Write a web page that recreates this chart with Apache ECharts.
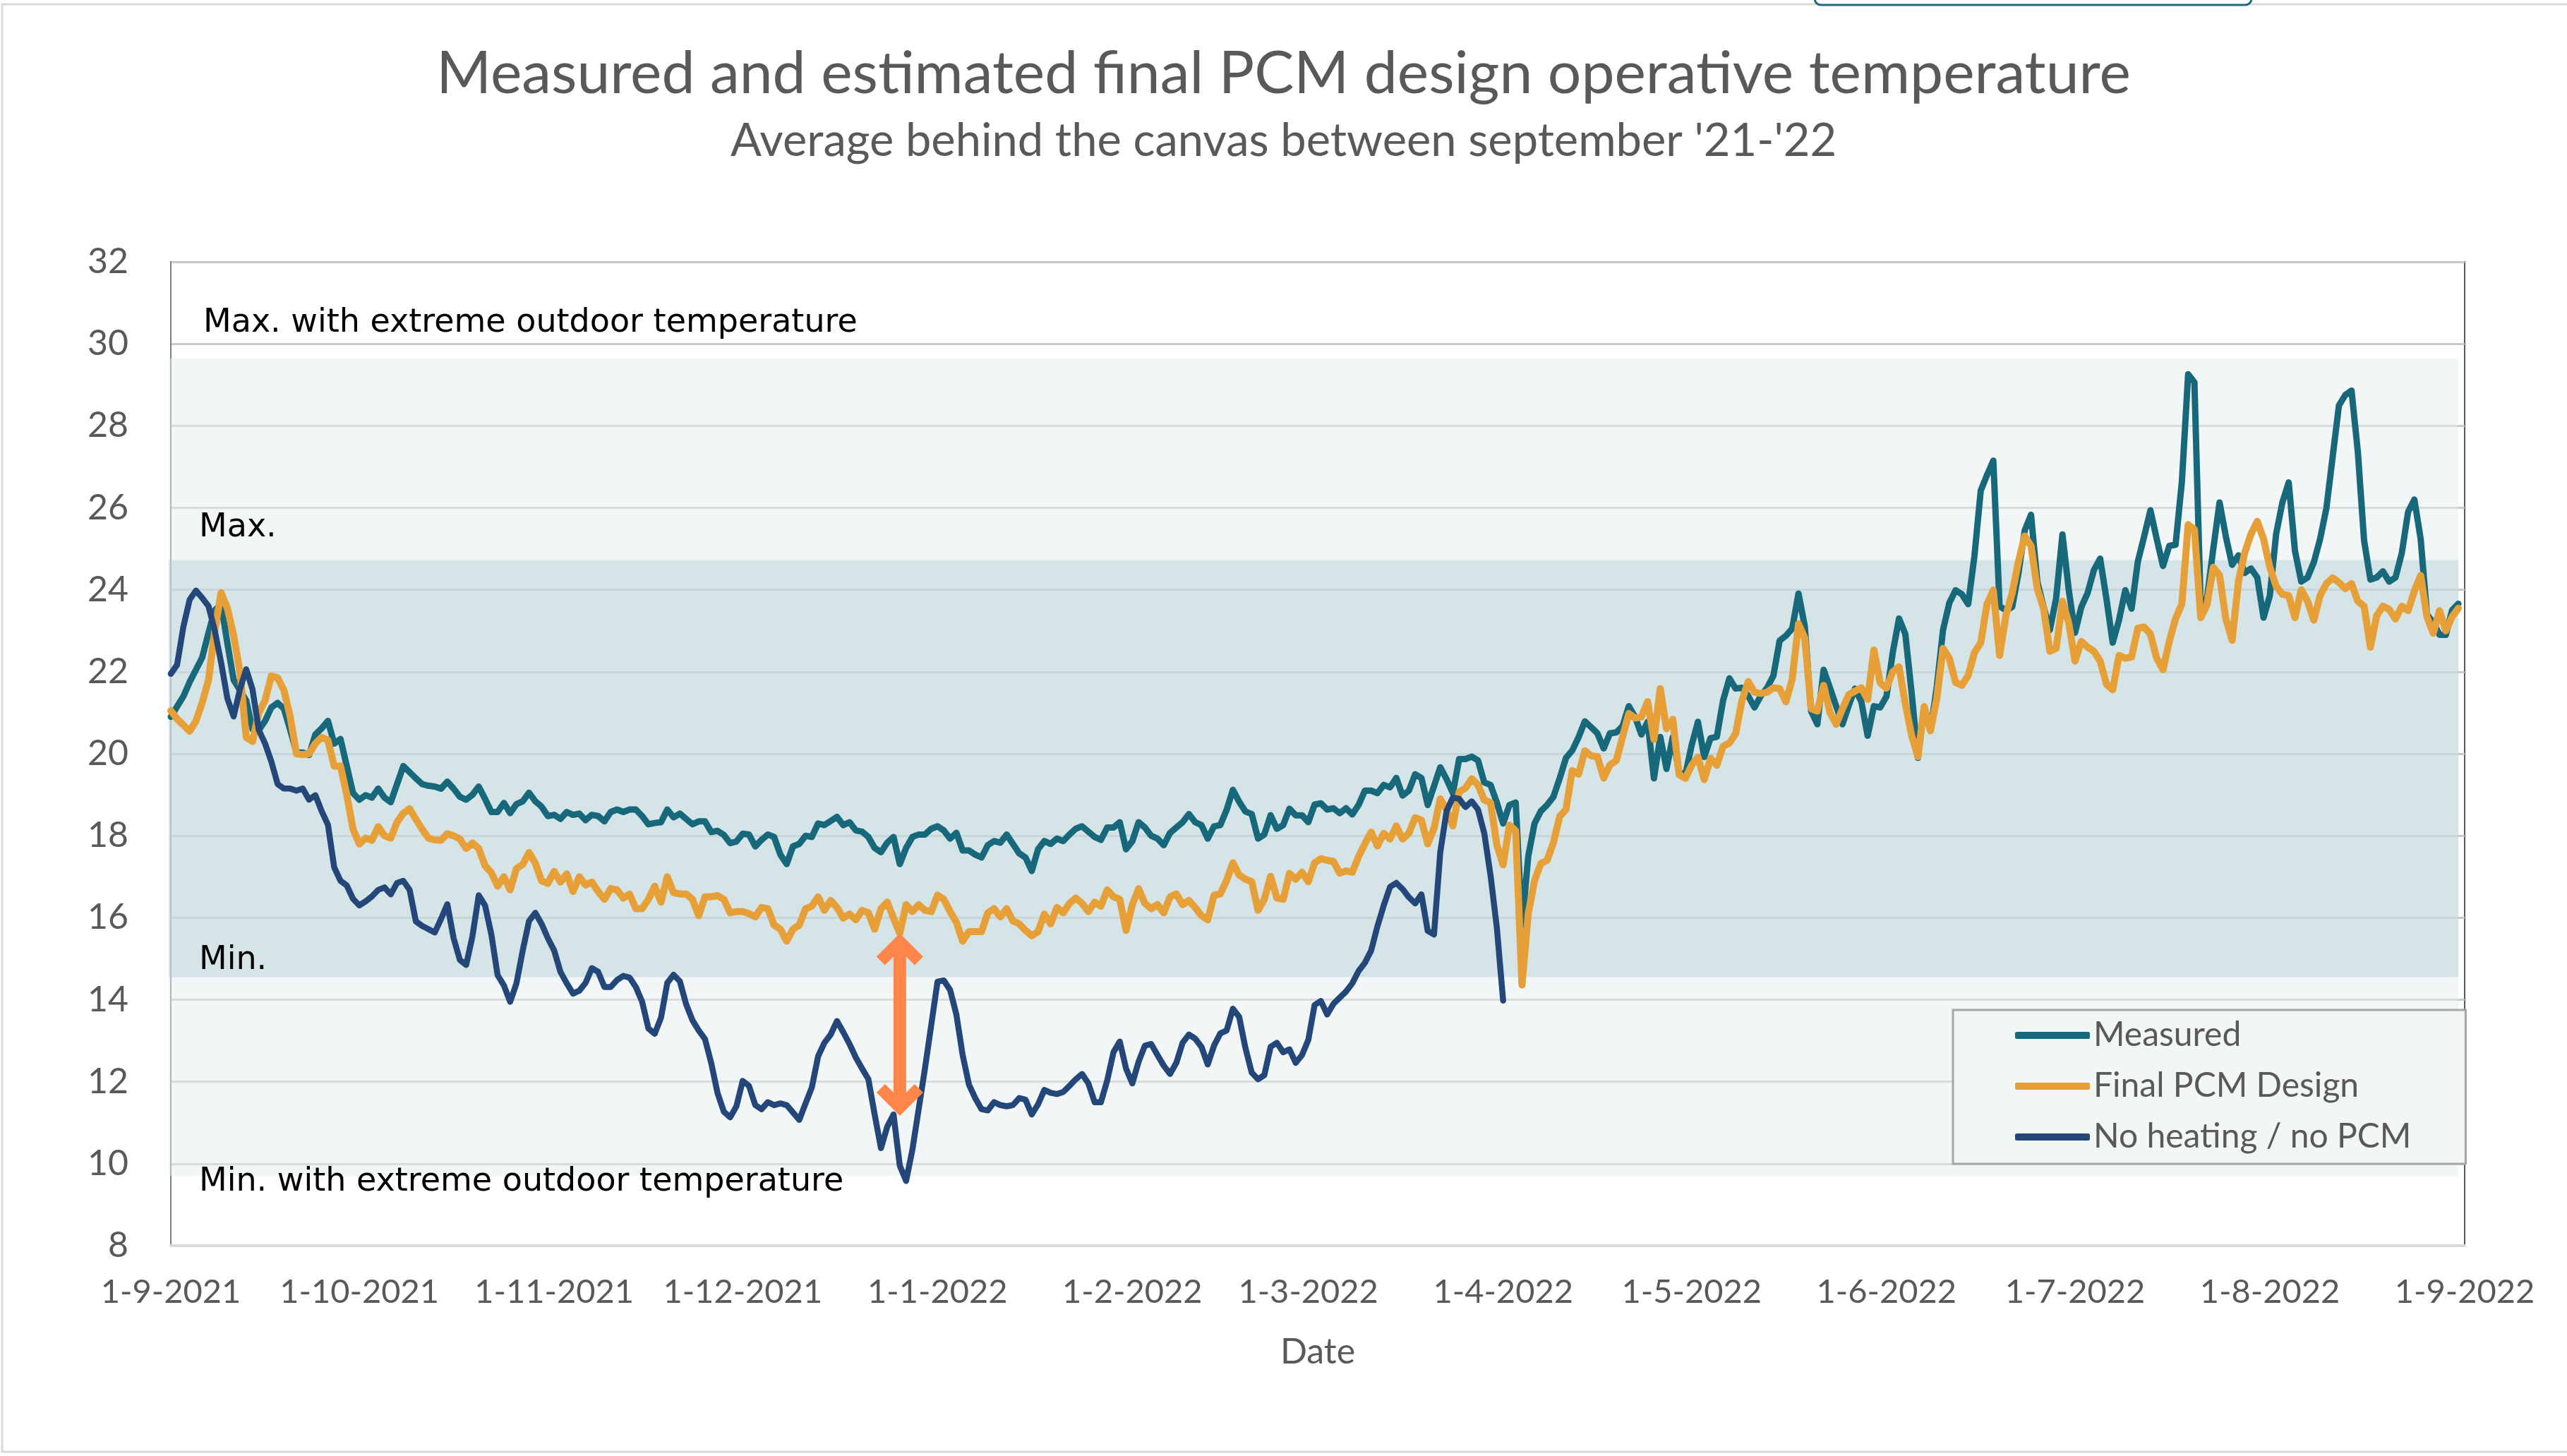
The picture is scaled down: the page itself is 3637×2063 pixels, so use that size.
<!DOCTYPE html>
<html>
<head>
<meta charset="utf-8">
<script src="https://cdn.jsdelivr.net/npm/echarts@6/dist/echarts.min.js"></script>
<style>
  html, body { margin: 0; padding: 0; background: #ffffff; }
  #chart { width: 3637px; height: 2063px; }
</style>
</head>
<body>
<div id="chart"></div>
<script>
// Daily average operative temperature behind the canvas, 1 Sep 2021 .. 31 Aug 2022
const firstDay = { year: 2021, month: 9, day: 1 };
const dayCount = 366; // 1-9-2021 .. 1-9-2022 inclusive

const seriesNames = ['Measured', 'Final PCM Design', 'No heating / no PCM'];

const measured = [
  20.9, 21.15, 21.4, 21.75, 22.05, 22.35, 22.95, 23.5, 23.65, 22.7,
  21.8, 21.55, 21.3, 20.6, 20.58, 20.8, 21.13, 21.24, 21.1, 20.58,
  20.03, 20.03, 19.97, 20.47, 20.62, 20.8, 20.25, 20.36, 19.7, 19.04,
  18.88, 18.99, 18.93, 19.15, 18.93, 18.82, 19.26, 19.7, 19.55, 19.4,
  19.26, 19.22, 19.2, 19.15, 19.32, 19.15, 18.95, 18.88, 19.0, 19.2,
  18.9, 18.58, 18.58, 18.8, 18.55, 18.77, 18.84, 19.05, 18.84, 18.71,
  18.48, 18.51, 18.41, 18.58, 18.51, 18.54, 18.38, 18.51, 18.48, 18.35,
  18.58, 18.64, 18.58, 18.64, 18.64, 18.48, 18.28, 18.31, 18.33, 18.64,
  18.45, 18.54, 18.41, 18.28, 18.35, 18.35, 18.09, 18.12, 18.02, 17.82,
  17.86, 18.05, 18.03, 17.74, 17.9, 18.03, 17.97, 17.54, 17.31, 17.74,
  17.8, 18.0, 17.97, 18.3, 18.26, 18.36, 18.46, 18.26, 18.33, 18.13,
  18.1, 17.97, 17.7, 17.6, 17.83, 17.97, 17.31, 17.7, 17.97, 18.03,
  18.03, 18.17, 18.23, 18.13, 17.93, 18.07, 17.64, 17.64, 17.54, 17.47,
  17.77, 17.87, 17.83, 18.03, 17.8, 17.57, 17.47, 17.14, 17.67, 17.87,
  17.8, 17.93, 17.87, 18.03, 18.17, 18.23, 18.1, 17.97, 17.9, 18.2,
  18.2, 18.33, 17.67, 17.87, 18.33, 18.2, 18.0, 17.93, 17.77, 18.07,
  18.2, 18.33, 18.53, 18.33, 18.26, 17.93, 18.23, 18.26, 18.63, 19.12,
  18.83, 18.59, 18.53, 17.93, 18.03, 18.5, 18.17, 18.26, 18.66, 18.5,
  18.5, 18.33, 18.76, 18.79, 18.64, 18.67, 18.55, 18.67, 18.52, 18.75,
  19.1, 19.1, 19.04, 19.24, 19.18, 19.41, 18.98, 19.1, 19.5, 19.41,
  18.75, 19.21, 19.67, 19.38, 19.04, 19.87, 19.87, 19.93, 19.84, 19.3,
  19.24, 18.81, 18.3, 18.75, 18.81, 15.8, 17.5, 18.3, 18.6, 18.75,
  18.95, 19.4, 19.9, 20.08, 20.4, 20.79, 20.65, 20.5, 20.13, 20.5,
  20.52, 20.67, 21.16, 20.9, 20.47, 20.78, 19.4, 20.41, 19.63, 20.41,
  19.55, 19.49, 20.21, 20.78, 19.92, 20.38, 20.41, 21.3, 21.84, 21.59,
  21.61, 21.41, 21.13, 21.41, 21.61, 21.9, 22.76, 22.88, 23.05, 23.91,
  23.11, 21.04, 20.72, 22.05, 21.61, 21.16, 20.72, 21.18, 21.59, 21.27,
  20.44, 21.16, 21.13, 21.4, 22.47, 23.3, 22.92, 21.49, 19.9, 21.15,
  20.56, 21.63, 23.02, 23.68, 23.99, 23.89, 23.65, 24.83, 26.42, 26.8,
  27.15, 23.6, 23.5, 23.58, 24.4, 25.45, 25.83, 24.2, 23.58, 23.02,
  23.8, 25.35, 24.0, 22.95, 23.58, 23.92, 24.48, 24.76, 23.78, 22.71,
  23.26, 23.99, 23.54, 24.69, 25.3, 25.94, 25.24, 24.58, 25.07, 25.1,
  26.63, 29.26, 29.06, 23.57, 23.8, 25.0, 26.13, 25.3, 24.61, 24.84,
  24.41, 24.52, 24.3, 23.32, 23.86, 25.36, 26.13, 26.62, 24.95, 24.2,
  24.3, 24.67, 25.24, 25.99, 27.25, 28.5, 28.75, 28.86, 27.37, 25.2,
  24.25, 24.3, 24.45, 24.2, 24.3, 24.9, 25.9, 26.2, 25.24, 23.4,
  23.2, 22.9, 22.9, 23.5, 23.66
];

const finalPcm = [
  21.05, 20.85, 20.7, 20.55, 20.8, 21.25, 21.8, 23.0, 23.93, 23.55,
  22.89, 22.0, 20.4, 20.3, 21.0, 21.3, 21.9, 21.85, 21.55, 20.9,
  20.0, 19.98, 20.0, 20.25, 20.4, 20.33, 19.7, 19.7, 19.0, 18.16,
  17.8, 17.94, 17.89, 18.22, 18.0, 17.94, 18.33, 18.55, 18.66, 18.4,
  18.16, 17.94, 17.9, 17.89, 18.05, 18.0, 17.92, 17.69, 17.82, 17.69,
  17.27, 17.1, 16.77, 17.0, 16.68, 17.2, 17.3, 17.59, 17.33, 16.9,
  16.84, 17.13, 16.87, 17.07, 16.64, 17.0, 16.8, 16.87, 16.64, 16.45,
  16.71, 16.68, 16.48, 16.58, 16.22, 16.22, 16.45, 16.77, 16.38, 17.0,
  16.61, 16.58, 16.58, 16.45, 16.05, 16.51, 16.51, 16.54, 16.45, 16.12,
  16.15, 16.15, 16.1, 16.02, 16.25, 16.22, 15.82, 15.72, 15.43, 15.72,
  15.82, 16.22, 16.28, 16.51, 16.18, 16.42, 16.25, 15.99, 16.09, 15.95,
  16.18, 16.12, 15.72, 16.22, 16.38, 15.99, 15.62, 16.32, 16.15, 16.32,
  16.18, 16.15, 16.55, 16.45, 16.15, 15.89, 15.43, 15.66, 15.66, 15.66,
  16.12, 16.22, 16.02, 16.22, 15.92, 15.85, 15.69, 15.56, 15.66, 16.09,
  15.85, 16.25, 16.12, 16.35, 16.48, 16.35, 16.15, 16.38, 16.28, 16.68,
  16.51, 16.45, 15.69, 16.32, 16.71, 16.35, 16.22, 16.32, 16.12, 16.51,
  16.58, 16.32, 16.42, 16.25, 16.05, 15.95, 16.55, 16.58, 16.91, 17.34,
  17.04, 16.94, 16.88, 16.18, 16.45, 17.01, 16.48, 16.45, 17.08, 16.94,
  17.11, 16.88, 17.34, 17.44, 17.4, 17.37, 17.09, 17.14, 17.11, 17.49,
  17.8, 18.09, 17.75, 18.06, 17.92, 18.24, 17.92, 18.06, 18.44, 18.38,
  17.8, 18.18, 18.9, 18.64, 18.24, 19.07, 19.16, 19.39, 19.24, 18.87,
  18.81, 17.78, 17.29, 18.26, 18.12, 14.36, 16.1, 16.91, 17.32, 17.4,
  17.83, 18.47, 18.64, 19.59, 19.5, 20.07, 19.95, 19.93, 19.41, 19.73,
  19.83, 20.41, 20.98, 20.87, 20.9, 21.27, 20.35, 21.59, 20.61, 20.84,
  19.49, 19.4, 19.72, 19.92, 19.37, 19.89, 19.72, 20.18, 20.26, 20.49,
  21.3, 21.76, 21.5, 21.47, 21.5, 21.61, 21.59, 21.27, 21.82, 23.17,
  22.82, 21.1, 21.04, 21.67, 21.01, 20.72, 21.1, 21.44, 21.53, 21.61,
  21.33, 22.53, 21.73, 21.6, 22.0, 22.12, 21.22, 20.45, 19.93, 21.15,
  20.56, 21.35, 22.57, 22.33, 21.74, 21.67, 21.91, 22.47, 22.71, 23.65,
  23.99, 22.4, 23.37, 23.92, 24.69, 25.31, 25.07, 24.03, 23.54, 22.5,
  22.57, 23.72, 23.19, 22.26, 22.74, 22.6, 22.5, 22.26, 21.7, 21.56,
  22.4, 22.33, 22.36, 23.06, 23.09, 22.92, 22.33, 22.05, 22.74, 23.3,
  23.65, 25.59, 25.47, 23.32, 23.63, 24.55, 24.35, 23.29, 22.77, 24.2,
  24.9, 25.36, 25.67, 25.24, 24.55, 24.09, 23.89, 23.86, 23.32, 24.0,
  23.72, 23.26, 23.86, 24.15, 24.29, 24.18, 24.03, 24.15, 23.72, 23.6,
  22.6, 23.37, 23.6, 23.52, 23.29, 23.6, 23.49, 23.97, 24.35, 23.34,
  22.94, 23.49, 23.0, 23.34, 23.55
];

// Reference case without heating and without PCM, recorded until 1-4-2022
const noHeating = [
  21.95, 22.17, 23.1, 23.76, 23.98, 23.8, 23.6, 23.0, 22.23, 21.35,
  20.91, 21.57, 22.06, 21.57, 20.58, 20.25, 19.81, 19.26, 19.15, 19.15,
  19.1, 19.15, 18.88, 18.99, 18.6, 18.27, 17.23, 16.9, 16.79, 16.46,
  16.3, 16.4, 16.52, 16.68, 16.74, 16.57, 16.85, 16.9, 16.68, 15.91,
  15.8, 15.72, 15.64, 15.97, 16.33, 15.5, 14.97, 14.85, 15.55, 16.55,
  16.3, 15.6, 14.6, 14.35, 13.95, 14.4, 15.2, 15.92, 16.12, 15.85,
  15.5, 15.2, 14.68, 14.4, 14.15, 14.22, 14.41, 14.77, 14.68, 14.31,
  14.31, 14.48, 14.58, 14.54, 14.31, 13.95, 13.3, 13.17, 13.56, 14.41,
  14.61, 14.45, 13.89, 13.5, 13.25, 13.04, 12.45, 11.72, 11.27, 11.13,
  11.4, 12.02, 11.9, 11.43, 11.33, 11.5, 11.43, 11.47, 11.43, 11.25,
  11.07, 11.47, 11.86, 12.62, 12.95, 13.15, 13.48, 13.21, 12.92, 12.59,
  12.32, 12.06, 11.2, 10.38, 10.9, 11.2, 9.95, 9.58, 10.34, 11.33,
  12.32, 13.38, 14.44, 14.47, 14.24, 13.64, 12.65, 11.93, 11.6, 11.33,
  11.3, 11.5, 11.43, 11.4, 11.43, 11.6, 11.56, 11.2, 11.45, 11.8,
  11.73, 11.7, 11.75, 11.9, 12.06, 12.19, 11.96, 11.5, 11.5, 12.03,
  12.72, 12.98, 12.32, 11.96, 12.49, 12.88, 12.92, 12.65, 12.39, 12.19,
  12.46, 12.95, 13.15, 13.05, 12.85, 12.42, 12.88, 13.18, 13.25, 13.78,
  13.58, 12.82, 12.22, 12.06, 12.16, 12.85, 12.95, 12.72, 12.79, 12.46,
  12.65, 13.02, 13.87, 13.97, 13.64, 13.9, 14.05, 14.2, 14.4, 14.7,
  14.9, 15.2, 15.79, 16.3, 16.75, 16.85, 16.7, 16.5, 16.35, 16.57,
  15.68, 15.59, 17.6, 18.6, 18.93, 18.9, 18.7, 18.84, 18.64, 18.06,
  17.03, 15.76, 13.98
];

// Comfort limits (°C): normal band and band with extreme outdoor temperature
const comfortBand = [14.55, 24.72];
const extremeBand = [9.7, 29.64];
const bandEndDay = 364.3;

const bandLabels = [
  'Max. with extreme outdoor temperature',
  'Max.',
  'Min.',
  'Min. with extreme outdoor temperature'
];
const bandLabelValues = [30.5, 25.5, 14.95, 9.55];

// Gap between the final design and the unheated case around Christmas
const gapArrow = { day: 116, top: 15.62, bottom: 11.17 };

// y-axis
const yMin = 8, yMax = 32, yStep = 2;

// ---------------------------------------------------------------------------
const FONT = 'Lato';
const GREY_TEXT = '#595959';
const COLORS = ['#17687A', '#E7A037', '#24477A'];
const WIDTHS = [9, 10, 8.5];

function dayLabels() {
  const out = [];
  for (let i = 0; i < dayCount; i++) {
    const d = new Date(Date.UTC(firstDay.year, firstDay.month - 1, firstDay.day + i));
    out.push(d.getUTCDate() + '-' + (d.getUTCMonth() + 1) + '-' + d.getUTCFullYear());
  }
  return out;
}
const days = dayLabels();

const chart = echarts.init(document.getElementById('chart'), null, { renderer: 'canvas' });

function lineSeries(idx, data, z) {
  const color = COLORS[idx];
  return {
    name: seriesNames[idx], type: 'line', data, z,
    showSymbol: false, symbol: 'none', smooth: false,
    lineStyle: { color, width: WIDTHS[idx], join: 'round', cap: 'round' },
    itemStyle: { color },
    emphasis: { disabled: true },
    silent: true
  };
}

const option = {
  animation: false,
  backgroundColor: '#ffffff',
  title: [
    {
      text: 'Measured and estimated final PCM design operative temperature',
      left: 'center', top: 56,
      textStyle: { fontFamily: FONT, fontSize: 84, fontWeight: 'normal', color: GREY_TEXT, lineHeight: 88 }
    },
    {
      text: "Average behind the canvas between september '21-'22",
      left: 'center', top: 161,
      textStyle: { fontFamily: FONT, fontSize: 65, fontWeight: 'normal', color: GREY_TEXT, lineHeight: 68 }
    }
  ],
  legend: {
    data: seriesNames,
    orient: 'vertical',
    left: 2767, top: 1431,
    padding: [6, 77, 8, 88],
    itemWidth: 106, itemHeight: 10, itemGap: 12,
    icon: 'roundRect',
    backgroundColor: '#f2f6f7',
    borderColor: '#a6a6a6', borderWidth: 3, borderRadius: 0,
    textStyle: { fontFamily: FONT, fontSize: 48, color: GREY_TEXT, lineHeight: 60 },
    selectedMode: false
  },
  grid: {
    left: 242, right: 145, top: 371, bottom: 298,
    show: true, borderColor: '#595959', borderWidth: 2, backgroundColor: 'transparent',
    containLabel: false
  },
  xAxis: {
    type: 'category',
    data: days,
    boundaryGap: false,
    name: 'Date', nameLocation: 'middle', nameGap: 126,
    nameTextStyle: { fontFamily: FONT, fontSize: 50, color: GREY_TEXT },
    axisLine: { show: true, lineStyle: { color: '#d9d9d9', width: 4 } },
    axisTick: { show: false },
    splitLine: { show: false },
    axisLabel: {
      interval: (idx, value) => value.startsWith('1-'),
      fontFamily: FONT, fontSize: 47, color: GREY_TEXT, margin: 42,
      showMinLabel: true, showMaxLabel: true
    }
  },
  yAxis: {
    type: 'value',
    min: yMin, max: yMax, interval: yStep,
    axisLine: { show: true, lineStyle: { color: '#7f7f7f', width: 2 } },
    axisTick: { show: false },
    splitLine: { show: true, lineStyle: { color: '#c9c9c9', width: 3 } },
    axisLabel: { fontFamily: FONT, fontSize: 50, color: GREY_TEXT, margin: 60 }
  },
  series: [
    {
      // comfort bands behind the curves
      type: 'custom', name: 'bands', z: 1, silent: true, clip: false,
      data: [[extremeBand[0], extremeBand[1], 0], [comfortBand[0], comfortBand[1], 1]],
      renderItem: (params, api) => {
        const lo = api.value(0), hi = api.value(1), kind = api.value(2);
        const p0 = api.coord([0, hi]);
        const p1 = api.coord([bandEndDay, lo]);
        return {
          type: 'rect',
          shape: { x: p0[0] - 3, y: p0[1], width: p1[0] - p0[0] + 3, height: p1[1] - p0[1] },
          style: { fill: kind === 0 ? 'rgba(229,237,239,0.5)' : 'rgba(184,210,214,0.5)' }
        };
      }
    },
    lineSeries(0, measured, 3),
    lineSeries(1, finalPcm, 4),
    lineSeries(2, noHeating, 5),
    {
      type: 'custom', name: 'band labels', z: 6, silent: true, clip: false,
      data: bandLabelValues.map((v, i) => [0, v, i]),
      renderItem: (params, api) => {
        const i = api.value(2);
        const p = api.coord([0, api.value(1)]);
        return {
          type: 'text',
          x: p[0] + (i === 0 ? 46 : 40), y: p[1],
          style: {
            text: bandLabels[i], fill: '#000000',
            font: '46px "DejaVu Sans"', textAlign: 'left', textVerticalAlign: 'middle'
          }
        };
      }
    },
    {
      type: 'custom', name: 'gap arrow', z: 7, silent: true, clip: false,
      data: [[gapArrow.day, gapArrow.top, gapArrow.bottom]],
      renderItem: (params, api) => {
        const t = api.coord([api.value(0), api.value(1)]);
        const b = api.coord([api.value(0), api.value(2)]);
        const x = t[0];
        const c = '#FF8548';
        const head = (tipY, dir) => ({
          type: 'polygon',
          shape: { points: [
            [x, tipY], [x + 33, tipY + dir * 33], [x + 21, tipY + dir * 45],
            [x, tipY + dir * 24], [x - 21, tipY + dir * 45], [x - 33, tipY + dir * 33]
          ] },
          style: { fill: c }
        });
        return {
          type: 'group',
          children: [
            { type: 'rect', shape: { x: x - 9, y: t[1] + 12, width: 18, height: b[1] - t[1] - 24 }, style: { fill: c } },
            head(t[1], 1),
            head(b[1], -1)
          ]
        };
      }
    }
  ],
  graphic: [
    {
      type: 'rect', silent: true, z: -10,
      shape: { x: 3, y: 6, width: 3700, height: 2051 },
      style: { fill: null, stroke: '#d9d9d9', lineWidth: 3 }
    },
    {
      type: 'rect', silent: true, z: 10,
      shape: { x: 2571, y: -40, width: 619, height: 47, r: 9 },
      style: { fill: '#ffffff', stroke: '#1f6b7b', lineWidth: 3 }
    }
  ]
};

chart.setOption(option);
</script>
</body>
</html>
